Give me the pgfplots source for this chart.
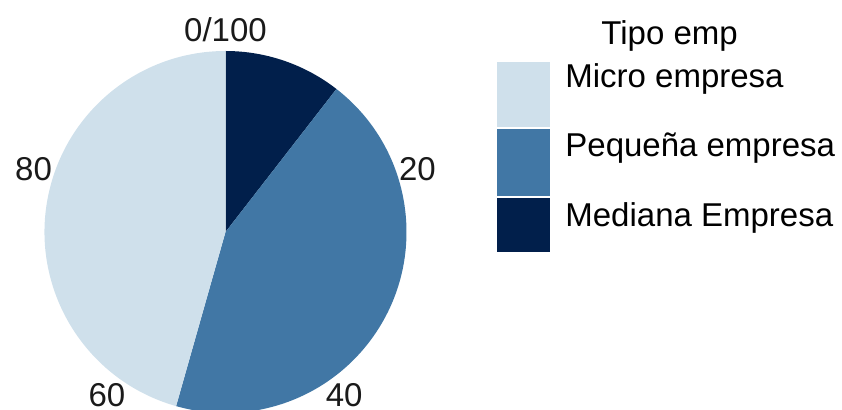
\documentclass[border=0pt]{standalone}
\usepackage{fontspec}
\setmainfont{Liberation Sans}
\usepackage{pgfplots}
\pgfplotsset{compat=1.18}

\definecolor{cLight}{RGB}{207,224,235}
\definecolor{cMid}{RGB}{65,119,165}
\definecolor{cDark}{RGB}{1,31,75}
\definecolor{cText}{RGB}{26,26,26}

\begin{document}
\fontsize{16.5}{19}\selectfont
\begin{tikzpicture}[x=0.5pt,y=-0.5pt]
	\useasboundingbox (0,0) rectangle (842,410);
	\begin{axis}[
		at={(112.75pt,-116pt)},
		anchor=center,
		x=90.5pt,
		y=90.5pt,
		hide axis,
		xmin=-1, xmax=1,
		ymin=-1, ymax=1,
		clip=false,
	]
	% shares in percent: Mediana 10.5, Pequena 43.9, Micro 45.6 (clockwise from top)
	\fill[cDark]  (axis cs:0,0) -- (axis cs:0,1) arc[start angle=90, end angle={90-3.6*10.5}, radius=90.5pt] -- cycle;
	\fill[cMid]   (axis cs:0,0) -- (axis cs:{sin(3.6*10.5)},{cos(3.6*10.5)}) arc[start angle={90-3.6*10.5}, end angle={90-3.6*54.4}, radius=90.5pt] -- cycle;
	\fill[cLight] (axis cs:0,0) -- (axis cs:{sin(3.6*54.4)},{cos(3.6*54.4)}) arc[start angle={90-3.6*54.4}, end angle=-270, radius=90.5pt] -- cycle;
	% angular tick labels
	\node[text=cText] at (axis cs:0,1.115) {0/100};
	\node[text=cText] at (axis cs:{1.115*sin(72)},{1.115*cos(72)}) {20};
	\node[text=cText] at (axis cs:{1.115*sin(144)},{1.115*cos(144)}) {40};
	\node[text=cText] at (axis cs:{1.115*sin(216)},{1.115*cos(216)}) {60};
	\node[text=cText] at (axis cs:{1.115*sin(288)},{1.115*cos(288)}) {80};
	\end{axis}
	% legend
	\node[anchor=base west, inner sep=0pt] at (601,45) {Tipo emp};
	\fill[cLight] (497,62) rectangle (550,127);
	\fill[cMid]   (497,129) rectangle (550,196);
	\fill[cDark]  (497,198) rectangle (550,252);
	\node[anchor=base west, inner sep=0pt] at (565,88) {Micro empresa};
	\node[anchor=base west, inner sep=0pt] at (565,157) {Pequeña empresa};
	\node[anchor=base west, inner sep=0pt] at (565,227) {Mediana Empresa};
\end{tikzpicture}
\end{document}
